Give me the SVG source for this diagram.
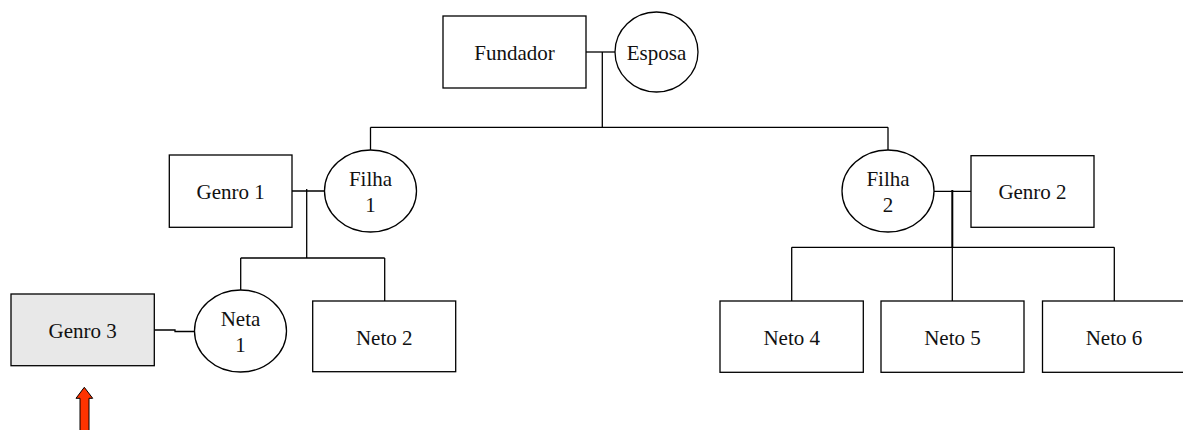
<svg xmlns="http://www.w3.org/2000/svg" width="1183" height="430" viewBox="0 0 1183 430">
<style>
.box{fill:#fff;stroke:#000;stroke-width:1.3}
.gray{fill:#e8e8e8}
.t{font-family:"Liberation Serif","Times New Roman",serif;font-size:21px;fill:#111;text-anchor:middle}
.c{fill:none;stroke:#000;stroke-width:1.3}
</style>
<rect width="1183" height="430" fill="#fff"/>
<g id="connectors">
<line class="c" x1="586" y1="52" x2="615" y2="52"/>
<line class="c" x1="602.3" y1="52" x2="602.3" y2="127.3"/>
<line class="c" x1="370.5" y1="127.3" x2="888" y2="127.3"/>
<line class="c" x1="370.5" y1="127.3" x2="370.5" y2="150"/>
<line class="c" x1="888" y1="127.3" x2="888" y2="150"/>
<line class="c" x1="292" y1="191" x2="324.5" y2="191"/>
<line class="c" x1="306.7" y1="189" x2="306.7" y2="258"/>
<line class="c" x1="240.7" y1="258" x2="384.7" y2="258"/>
<line class="c" x1="240.7" y1="258" x2="240.7" y2="290"/>
<line class="c" x1="384.7" y1="258" x2="384.7" y2="301"/>
<polyline class="c" points="154.3,330 175,330 175,331.5 194.5,331.5"/>
<line class="c" x1="934" y1="191.3" x2="971" y2="191.3"/>
<line class="c" x1="952.3" y1="190" x2="952.3" y2="247.3" style="stroke-width:2"/>
<line class="c" x1="791.7" y1="247.3" x2="1114.3" y2="247.3"/>
<line class="c" x1="791.7" y1="247.3" x2="791.7" y2="301"/>
<line class="c" x1="952.3" y1="247.3" x2="952.3" y2="301"/>
<line class="c" x1="1114.3" y1="247.3" x2="1114.3" y2="301"/>
</g>
<g id="fundador"><rect class="box" x="443" y="16" width="143" height="72"/><text class="t" x="514.5" y="59.5">Fundador</text></g>
<g id="esposa"><ellipse class="box" cx="656.5" cy="52" rx="41.5" ry="40"/><text class="t" x="656.5" y="59.5">Esposa</text></g>
<g id="genro1"><rect class="box" x="169.3" y="155" width="122.7" height="72.3"/><text class="t" x="230.7" y="198.5">Genro 1</text></g>
<g id="filha1"><ellipse class="box" cx="370.5" cy="191" rx="46" ry="41"/><text class="t" x="370.5" y="185.7">Filha</text><text class="t" x="370.5" y="211.7">1</text></g>
<g id="filha2"><ellipse class="box" cx="888" cy="191" rx="46" ry="41"/><text class="t" x="888" y="185.7">Filha</text><text class="t" x="888" y="211.7">2</text></g>
<g id="genro2"><rect class="box" x="971" y="155.7" width="123" height="71.6"/><text class="t" x="1032.5" y="199">Genro 2</text></g>
<g id="genro3"><rect class="box gray" x="11" y="294" width="143.3" height="71.7"/><text class="t" x="82.7" y="338">Genro 3</text></g>
<g id="neta1"><ellipse class="box" cx="240.5" cy="331" rx="46" ry="41"/><text class="t" x="240.5" y="325.7">Neta</text><text class="t" x="240.5" y="351.7">1</text></g>
<g id="neto2"><rect class="box" x="312.7" y="301" width="143" height="70.7"/><text class="t" x="384.2" y="345">Neto 2</text></g>
<g id="neto4"><rect class="box" x="720" y="301" width="143.3" height="71.3"/><text class="t" x="791.7" y="345">Neto 4</text></g>
<g id="neto5"><rect class="box" x="881" y="301" width="143" height="71.3"/><text class="t" x="952.5" y="345">Neto 5</text></g>
<g id="neto6"><rect class="box" x="1042.5" y="301" width="143" height="71.3"/><text class="t" x="1114" y="345">Neto 6</text></g>
<g id="arrow"><polygon points="84.3,387.3 92.7,398.3 89,398.3 89,432 80,432 80,398.3 76,398.3" fill="#ff3300" stroke="#000" stroke-width="1"/></g>
</svg>
